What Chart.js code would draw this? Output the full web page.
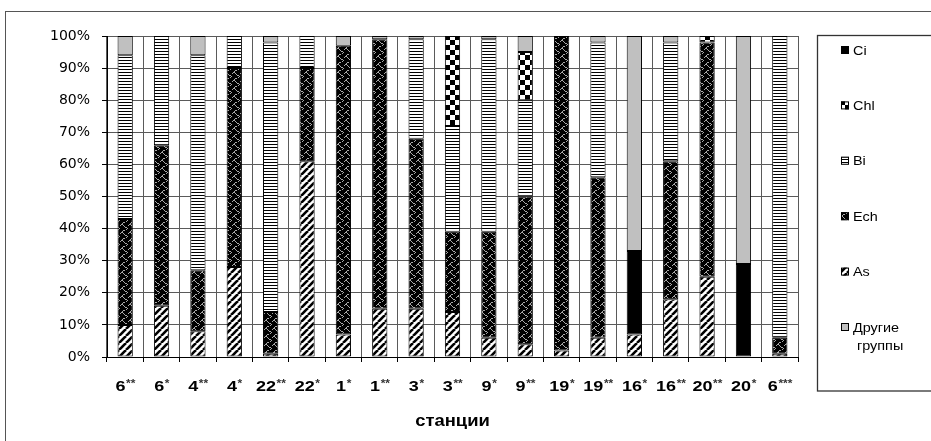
<!DOCTYPE html>
<html>
<head>
<meta charset="utf-8">
<script src="https://cdn.jsdelivr.net/npm/chart.js@4/dist/chart.umd.min.js"></script>
<style>
  html, body { margin: 0; padding: 0; background: #fff; }
  #wrap { width: 931px; height: 441px; position: relative; overflow: hidden; }
  #frame { position: absolute; left: 5px; top: 11px; width: 960px; height: 460px;
           border-left: 1px solid #555; border-top: 1px solid #555; pointer-events: none; }
</style>
</head>
<body>
<div id="wrap"><canvas id="c" width="931" height="441"></canvas><div id="frame"></div></div>
<script>
// Stations (x categories)
const categories = ['6**','6*','4**','4*','22**','22*','1*','1**','3*','3**','9*','9**','19*','19**','16*','16**','20**','20*','6***'];

// Share of each algal group per station, %
const seriesAs     = [10, 16,  8, 28,  1, 61,  7, 15, 15, 14,  6,  4,  2,  6,  7, 18, 25,  0,  1];
const seriesCi     = [ 0,  0,  0,  0,  0,  0,  0,  0,  0,  0,  0,  0,  0,  0, 26,  0,  0, 29,  0];
const seriesEch    = [33, 50, 19, 62, 13, 29, 90, 84, 53, 25, 33, 46, 98, 50,  0, 43, 73,  0,  5];
const seriesBi     = [51, 34, 67, 10, 84, 10,  0,  0, 31, 33, 60, 30,  0, 42,  0, 37,  0,  0, 94];
const seriesChl    = [ 0,  0,  0,  0,  0,  0,  0,  0,  0, 28,  0, 15,  0,  0,  0,  0,  2,  0,  0];
const seriesOthers = [ 6,  0,  6,  0,  2,  0,  3,  1,  1,  0,  1,  5,  0,  2, 67,  2,  0, 71,  0];

// Y tick values
const yTicks = [0, 10, 20, 30, 40, 50, 60, 70, 80, 90, 100];

const axisTitle = 'станции';

// ---- fill patterns ----
function makePattern(w, h, draw) {
  const c = document.createElement('canvas');
  c.width = w; c.height = h;
  const g = c.getContext('2d');
  draw(g, w, h);
  return g.createPattern(c, 'repeat');
}
function bitmap(rows, fg, bg) {
  return makePattern(rows[0].length, rows.length, (g, w, h) => {
    g.fillStyle = bg; g.fillRect(0, 0, w, h);
    g.fillStyle = fg;
    rows.forEach((r, y) => { for (let x = 0; x < r.length; x++) if (r[x] === '#') g.fillRect(x, y, 1, 1); });
  });
}
const patAs = makePattern(7, 7, (g, w, h) => {
  g.fillStyle = '#fff'; g.fillRect(0, 0, w, h);
  g.strokeStyle = '#000'; g.lineWidth = 2.6;
  for (const x0 of [-7, 0, 7]) { g.beginPath(); g.moveTo(x0, 7); g.lineTo(x0 + 7, 0); g.stroke(); }
});
const patEch = bitmap([
  '.##.....',
  '#..#....',
  '....#...',
  '.....##.',
  '.......#',
  '......#.',
  '...##...',
  '..#.....'
], '#a8a8a8', '#000');
const patBi = makePattern(4, 3, (g, w, h) => {
  g.fillStyle = '#fff'; g.fillRect(0, 0, w, h);
  g.fillStyle = '#000'; g.fillRect(0, 0, w, 1);
});
const patChl = makePattern(10, 10, (g, w, h) => {
  g.fillStyle = '#fff'; g.fillRect(0, 0, w, h);
  g.fillStyle = '#000'; g.fillRect(0, 0, 5, 5); g.fillRect(5, 5, 5, 5);
});

const nz = arr => arr.map(v => (v === 0 ? null : v));

// stacked bottom-to-top
const datasets = [
  { label: 'As',            data: nz(seriesAs),     backgroundColor: patAs },
  { label: 'Ci',            data: nz(seriesCi),     backgroundColor: '#000' },
  { label: 'Ech',           data: nz(seriesEch),    backgroundColor: patEch },
  { label: 'Bi',            data: nz(seriesBi),     backgroundColor: patBi },
  { label: 'Chl',           data: nz(seriesChl),    backgroundColor: patChl },
  { label: 'Другие группы', data: nz(seriesOthers), backgroundColor: '#c0c0c0' }
].map(d => Object.assign(d, { borderColor: '#000', borderWidth: 1, borderSkipped: false }));

// legend listed top-to-bottom
const legendOrder = ['Ci', 'Chl', 'Bi', 'Ech', 'As', 'Другие группы'];

const SX = 1.2; // horizontal text stretch
const FONT = '"Liberation Sans", Arial, sans-serif';

const decorPlugin = {
  id: 'decor',
  afterDraw(chart) {
    const ctx = chart.ctx;
    const xs = chart.scales.x;
    ctx.save();

    ctx.fillStyle = '#000';
    ctx.textBaseline = 'alphabetic';
    // station labels with raised asterisks
    categories.forEach((lab, i) => {
      const m = lab.match(/^([^*]*)(\**)$/);
      const num = m[1], stars = m[2];
      ctx.font = 'bold 15px ' + FONT;
      const wn = ctx.measureText(num).width * SX;
      ctx.font = 'bold 10px ' + FONT;
      const ws = ctx.measureText(stars).width * SX;
      const cx = xs.getPixelForValue(i);
      const x0 = cx - (wn + ws) / 2;
      ctx.save();
      ctx.translate(x0, 391);
      ctx.scale(SX, 1);
      ctx.font = 'bold 15px ' + FONT;
      ctx.fillStyle = '#000';
      ctx.fillText(num, 0, 0);
      ctx.font = 'bold 10px ' + FONT;
      ctx.fillStyle = '#333';
      ctx.fillText(stars, wn / SX + 0.5, -4);
      ctx.restore();
    });
    // axis title
    ctx.save();
    ctx.fillStyle = '#000';
    ctx.font = 'bold 16px ' + FONT;
    const tw = ctx.measureText(axisTitle).width * 1.15;
    const ca = chart.chartArea;
    ctx.translate((ca.left + ca.right) / 2 - tw / 2, 426);
    ctx.scale(1.15, 1);
    ctx.fillText(axisTitle, 0, 0);
    ctx.restore();

    // legend box
    ctx.strokeStyle = '#333';
    ctx.lineWidth = 1.3;
    ctx.strokeRect(817.5, 35.5, 200, 355.5);
    ctx.font = '12px ' + FONT;
    legendOrder.forEach((name, k) => {
      const ds = chart.data.datasets.find(d => d.label === name);
      const y = 50 + k * 55.4;
      ctx.fillStyle = ds.backgroundColor;
      ctx.fillRect(841, y - 4, 8, 8);
      ctx.strokeStyle = '#000';
      ctx.lineWidth = 1;
      ctx.strokeRect(841.5, y - 3.5, 7, 7);
      ctx.fillStyle = '#000';
      const lines = name.split(' ');
      lines.forEach((ln, j) => {
        ctx.save();
        ctx.translate(j === 0 ? 853 : 857, y + 4.5 + j * 18);
        ctx.scale(SX, 1);
        ctx.fillText(ln, 0, 0);
        ctx.restore();
      });
    });
    ctx.restore();
  }
};

new Chart(document.getElementById('c'), {
  type: 'bar',
  data: { labels: categories, datasets },
  options: {
    responsive: false,
    animation: false,
    events: [],
    layout: { padding: { left: 0, right: 133, top: 36, bottom: 0 } },
    plugins: { legend: { display: false }, tooltip: { enabled: false }, title: { display: false } },
    datasets: { bar: { categoryPercentage: 1.0, barPercentage: 0.42 } },
    scales: {
      x: {
        stacked: true,
        grid: { color: '#5a5a5a', lineWidth: 1, offset: true, drawTicks: true, tickLength: 5, tickColor: '#000' },
        border: { color: '#000', width: 1 },
        ticks: { display: false },
        afterFit(s) { s.height = 84; }
      },
      y: {
        stacked: true,
        min: 0, max: 100,
        afterBuildTicks(s) { s.ticks = yTicks.map(v => ({ value: v })); },
        grid: { color: '#5a5a5a', lineWidth: 1, tickLength: 5, tickColor: '#000' },
        border: { color: '#000', width: 1 },
        ticks: {
          padding: 12,
          color: '#000',
          font: { family: '"DejaVu Sans", sans-serif', size: 14 },
          callback: v => v + '%'
        },
        afterFit(s) { s.width = 107; }
      }
    }
  },
  plugins: [decorPlugin]
});
</script>
</body>
</html>
